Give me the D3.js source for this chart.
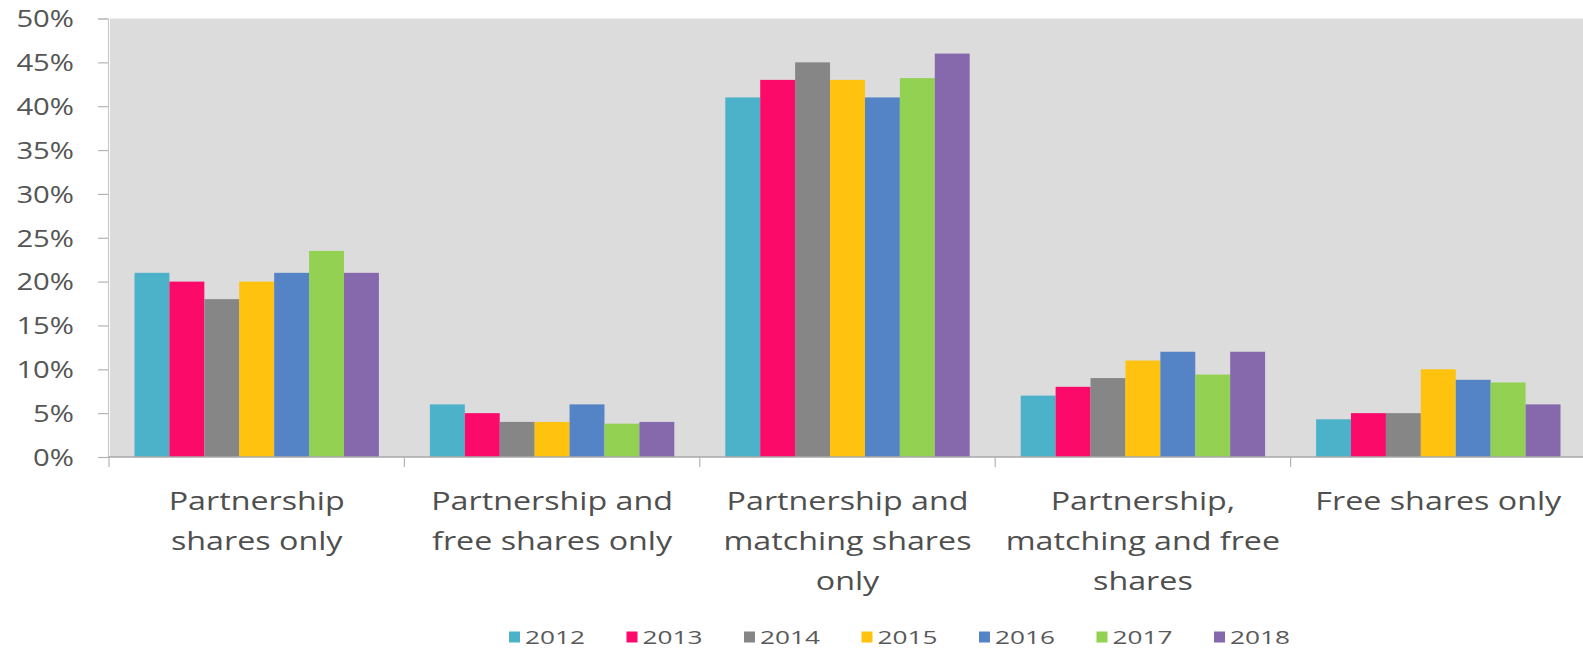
<!DOCTYPE html>
<html>
<head>
<meta charset="utf-8">
<script src="https://cdn.jsdelivr.net/npm/d3@7"></script>
<style>
  html, body { margin: 0; padding: 0; background: #ffffff; }
  svg { display: block; font-family: "Open Sans", "Noto Sans", sans-serif; }
</style>
</head>
<body>
<svg id="chart" width="1583" height="651"></svg>
<script>
// Share plan combinations offered, by year
const categories = [
  ["Partnership", "shares only"],
  ["Partnership and", "free shares only"],
  ["Partnership and", "matching shares", "only"],
  ["Partnership,", "matching and free", "shares"],
  ["Free shares only"]
];
const years = ["2012", "2013", "2014", "2015", "2016", "2017", "2018"];
const yearColors = ["#4bb2ca", "#fb0a6a", "#868686", "#ffc20e", "#5584c6", "#93d152", "#8669ac"];

// percentage of plans per category, one array per year
const v2012 = [21, 6, 41, 7, 4.3];
const v2013 = [20, 5, 43, 8, 5];
const v2014 = [18, 4, 45, 9, 5];
const v2015 = [20, 4, 43, 11, 10];
const v2016 = [21, 6, 41, 12, 8.8];
const v2017 = [23.5, 3.8, 43.2, 9.4, 8.5];
const v2018 = [21, 4, 46, 12, 6];
const seriesValues = [v2012, v2013, v2014, v2015, v2016, v2017, v2018];

const yTicks = [0, 5, 10, 15, 20, 25, 30, 35, 40, 45, 50];

const svg = d3.select("#chart");
const plot = { left: 109, right: 1586, top: 18.5, bottom: 457 };

// glyphs are drawn wider than the font's natural width
function widen(sel, k) {
  sel.each(function () {
    const w = this.getComputedTextLength();
    this.setAttribute("textLength", (w * k).toFixed(1));
    this.setAttribute("lengthAdjust", "spacingAndGlyphs");
  });
}

const x0 = d3.scaleBand()
  .domain(d3.range(categories.length))
  .range([plot.left, plot.right])
  .padding(0);

const groupPad = 25.5;
const x1 = d3.scaleBand()
  .domain(years)
  .range([groupPad, x0.bandwidth() - groupPad])
  .padding(0);

const y = d3.scaleLinear().domain([0, 50]).range([plot.bottom, plot.top]);

// plot background
svg.append("rect")
  .attr("x", plot.left + 1)
  .attr("y", plot.top)
  .attr("width", 1583 - plot.left - 1)
  .attr("height", plot.bottom - plot.top)
  .attr("fill", "#dcdcdc");

// bars
const groups = svg.append("g").selectAll("g")
  .data(categories.map((c, i) => i))
  .join("g")
  .attr("transform", i => `translate(${x0(i)},0)`);

groups.selectAll("rect")
  .data(i => years.map((yr, j) => ({ yr, j, v: seriesValues[j][i] })))
  .join("rect")
  .attr("x", d => x1(d.yr))
  .attr("y", d => y(d.v))
  .attr("width", x1.bandwidth())
  .attr("height", d => y(0) - y(d.v))
  .attr("fill", d => yearColors[d.j]);

// y axis
const yAxis = svg.append("g")
  .attr("transform", `translate(${plot.left - 1},0)`)
  .call(d3.axisLeft(y).tickValues(yTicks).tickFormat(d => d + "%").tickSize(10).tickPadding(24));
yAxis.select(".domain").attr("stroke", "#c8c8c8").attr("stroke-width", 1.2);
yAxis.selectAll(".tick line").attr("stroke", "#b4b4b4").attr("stroke-width", 1.2);
yAxis.selectAll(".tick text")
  .attr("fill", "#555555")
  .style("font-size", "23px")
  .style("font-family", "'Open Sans', sans-serif")
  .attr("dy", "0.36em")
  .call(widen, 1.27);

// x axis baseline and category boundary ticks
const xAxis = svg.append("g")
  .attr("transform", `translate(0,${plot.bottom})`);
xAxis.append("line")
  .attr("x1", plot.left - 1).attr("x2", 1583)
  .attr("stroke", "#a8a8a8").attr("stroke-width", 1.5);
xAxis.selectAll("line.tick")
  .data(d3.range(categories.length + 1))
  .join("line")
  .attr("class", "tick")
  .attr("x1", i => plot.left + i * x0.step())
  .attr("x2", i => plot.left + i * x0.step())
  .attr("y1", 0).attr("y2", 10)
  .attr("stroke", "#b4b4b4").attr("stroke-width", 1.2);

// category labels
const labelGroups = svg.append("g").selectAll("g")
  .data(categories)
  .join("g")
  .attr("transform", (c, i) => `translate(${x0(i) + x0.bandwidth() / 2},0)`);
labelGroups.selectAll("text")
  .data(c => c)
  .join("text")
  .attr("x", 0)
  .attr("y", (d, k) => 510 + k * 40)
  .attr("text-anchor", "middle")
  .attr("fill", "#4f4f4f")
  .style("font-size", "26px")
  .text(d => d)
  .call(widen, 1.24);

// legend
const legendStart = 509, legendStep = 117.5, legendY = 637;
const legend = svg.append("g").selectAll("g")
  .data(years)
  .join("g")
  .attr("transform", (d, j) => `translate(${legendStart + j * legendStep},${legendY})`);
legend.append("rect")
  .attr("x", 0).attr("y", -5.5)
  .attr("width", 11).attr("height", 11)
  .attr("fill", (d, j) => yearColors[j]);
legend.append("text")
  .attr("x", 16)
  .attr("y", 0)
  .attr("dy", "0.36em")
  .attr("fill", "#595959")
  .style("font-size", "19px")
  .text(d => d)
  .call(widen, 1.38);
</script>
</body>
</html>
